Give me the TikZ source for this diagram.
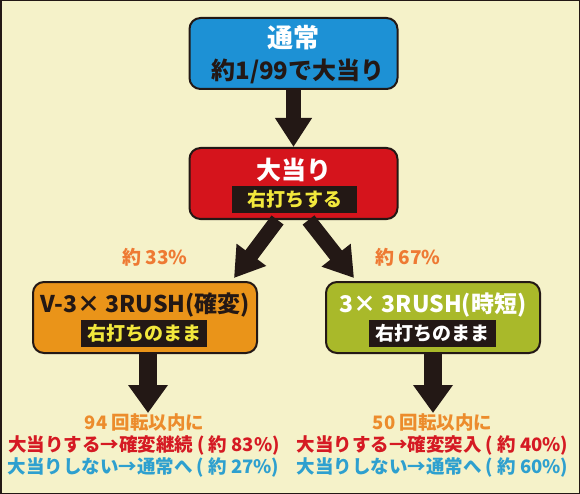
\documentclass[tikz,border=0pt]{standalone}
\usepackage{fontspec}
\setmainfont{Noto Sans CJK JP}
\usetikzlibrary{arrows.meta}
\definecolor{paper}{HTML}{F5F2C9}
\definecolor{ink}{HTML}{231815}
\definecolor{normalblue}{HTML}{1D91D5}
\definecolor{hitred}{HTML}{D5141C}
\definecolor{rushorange}{HTML}{EA9419}
\definecolor{rushgreen}{HTML}{A9B92A}
\definecolor{rateorange}{HTML}{EE7A33}
\definecolor{spinorange}{HTML}{EC8C2C}
\definecolor{txtred}{HTML}{D51A23}
\definecolor{txtblue}{HTML}{2EA0CF}
\definecolor{tagyellow}{HTML}{F2E83C}
\newcommand{\fsz}[1]{\fontsize{#1}{#1}\selectfont\bfseries}
\begin{document}
\begin{tikzpicture}[x=1pt, y=-1pt]
                    \tikzstyle{box} = [draw=ink, line width=2pt, rounded corners=11pt, minimum width=208pt, minimum height=71pt, inner sep=0pt]
                    \tikzstyle{tag} = [fill=ink, minimum width=125pt, minimum height=27pt, inner sep=0pt]
                    \tikzstyle{bigarrow} = [draw=ink, line width=15pt, -{Triangle[width=35pt,length=29pt]}]
                    \tikzstyle{rate} = [text=rateorange, inner sep=0pt]
                    \tikzstyle{note} = [inner sep=0pt]
                    \useasboundingbox (0,0) rectangle (580,494);
                    \draw[fill=paper, draw=ink, line width=1.5pt] (0.75,0.75) rectangle (579.25,493.25);
                    % boxes
                    \node[box, fill=normalblue] (normal) at (293.5,53.5) {};
                    \node[box, fill=hitred] (hit) at (293.5,183.5) {};
                    \node[box, fill=rushorange, minimum width=224pt] (kakuhen) at (145,317.5) {};
                    \node[box, fill=rushgreen, minimum width=214pt] (jitan) at (433,317.5) {};
                    % texts in boxes
                    \node[note, text=white] (normaltitle) at (293.5,38) {\fsz{26}通常};
                    \node[note, text=ink] (normalprob) at (298,71) {\fsz{24}約1/99で大当り};
                    \node[note, text=white] (hittitle) at (293.5,170) {\fsz{25}大当り};
                    \node[tag] (hittag) at (294.5,199.5) {\textcolor{tagyellow}{\fsz{19}右打ちする}};
                    \node[note, text=ink] (kakuhentitle) at (145,305) {\fsz{23}V-3× 3RUSH(確変)};
                    \node[tag, minimum width=126pt] (kakuhentag) at (144,333.5) {\textcolor{tagyellow}{\fsz{19}右打ちのまま}};
                    \node[note, text=white] (jitantitle) at (433,305) {\fsz{23}3× 3RUSH(時短)};
                    \node[tag, minimum width=127pt] (jitantag) at (432.5,333.5) {\textcolor{white}{\fsz{19}右打ちのまま}};
                    % arrows
                    \draw[bigarrow] (normal.south) -- (hit.north);
                    \draw[bigarrow] ([xshift=-16pt]hit.south) -- ([xshift=-24pt, yshift=3pt]kakuhen.north east);
                    \draw[bigarrow] ([xshift=15pt]hit.south) -- ([xshift=29pt, yshift=3pt]jitan.north west);
                    \draw[bigarrow, line width=18pt, -{Triangle[width=38pt,length=28pt]}] ([xshift=3pt]kakuhen.south) -- ++(0,59) coordinate (kakuhenend);
                    \draw[bigarrow, line width=18pt, -{Triangle[width=38pt,length=28pt]}] (jitan.south) -- ++(0,59) coordinate (jitanend);
                    % rates
                    \node[rate] (leftrate) at (155,257) {\fsz{19}約 33\%};
                    \node[rate] (rightrate) at (408,257) {\fsz{19}約 67\%};
                    % results
                    \node[note, text=spinorange] (kakuhenspin) at (144.5,422) {\fsz{18.5}94 回転以内に};
                    \node[note, text=txtred] (kakuhenhit) at (144,445) {\fsz{18.5}大当りする→確変継続 ( 約 83\%)};
                    \node[note, text=txtblue] (kakuhenmiss) at (143.5,467) {\fsz{18.5}大当りしない→通常へ ( 約 27\%)};
                    \node[note, text=spinorange] (jitanspin) at (432.5,422) {\fsz{18.5}50 回転以内に};
                    \node[note, text=txtred] (jitanhit) at (432.5,445) {\fsz{18.5}大当りする→確変突入 ( 約 40\%)};
                    \node[note, text=txtblue] (jitanmiss) at (432.5,467) {\fsz{18.5}大当りしない→通常へ ( 約 60\%)};
\end{tikzpicture}
\end{document}
